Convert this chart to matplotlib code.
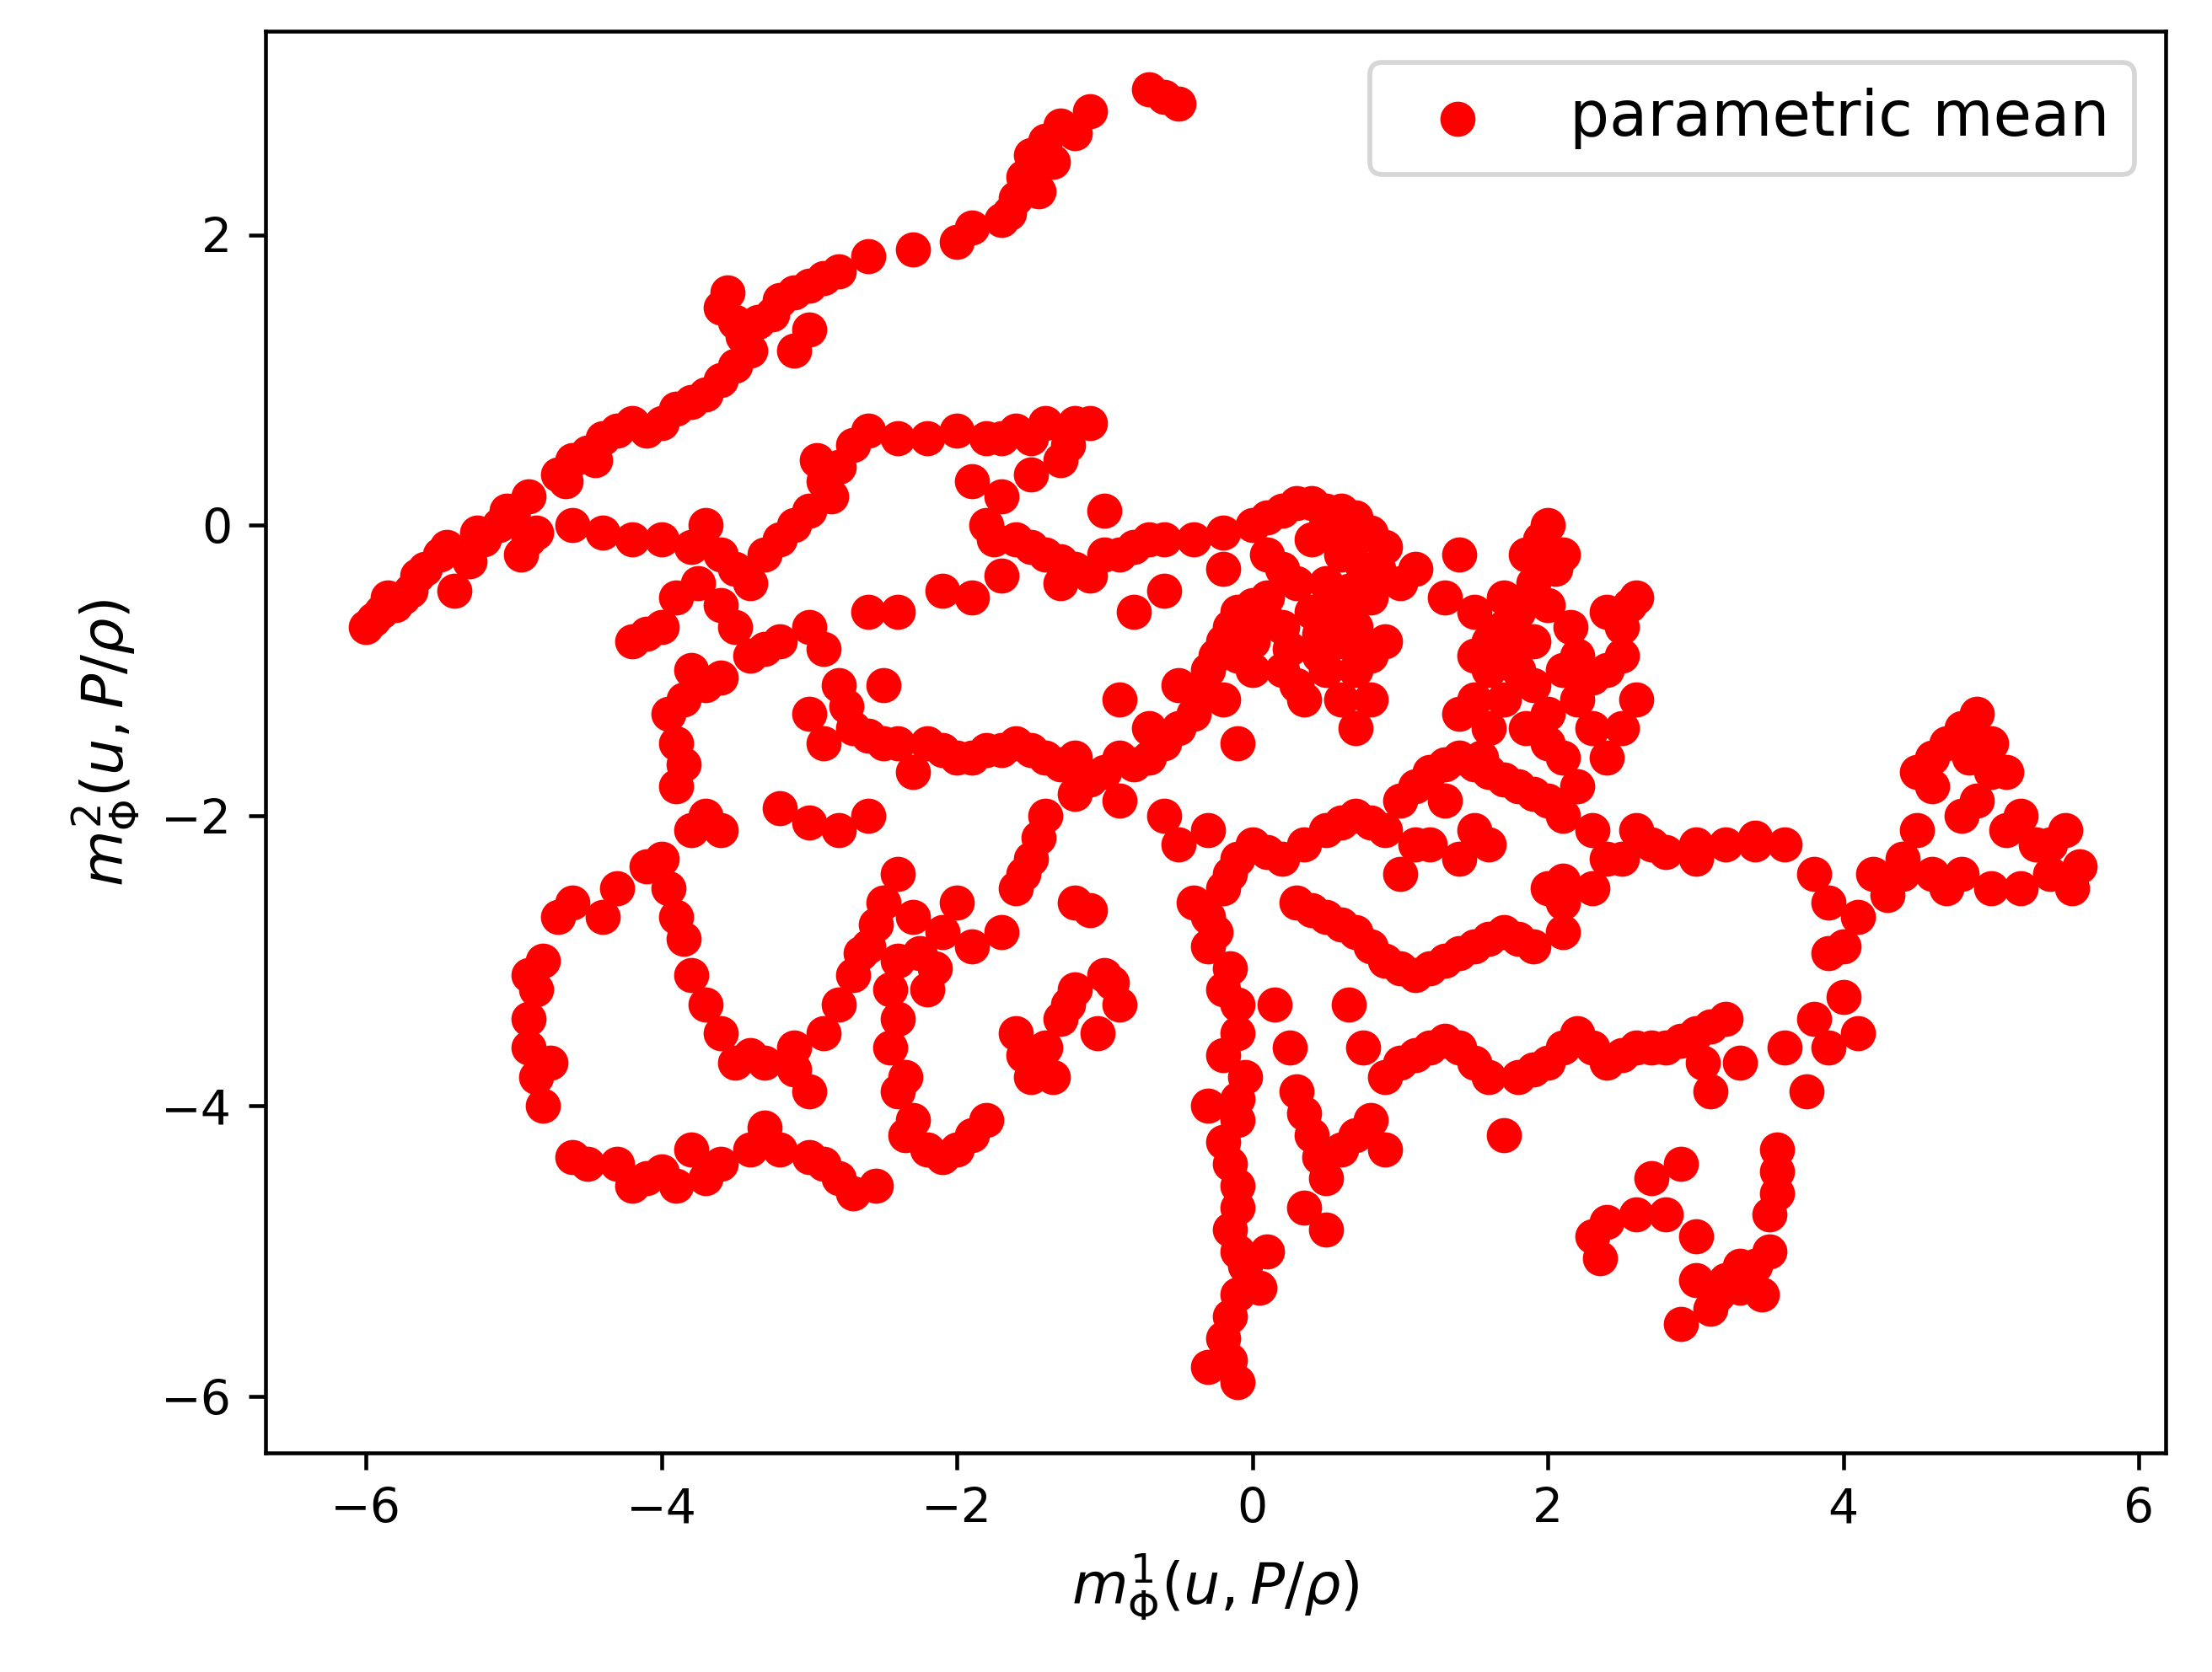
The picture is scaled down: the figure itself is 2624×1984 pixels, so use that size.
import matplotlib
matplotlib.use('Agg')
import matplotlib.pyplot as plt
import numpy as np

# points (x, y)
pts_top = [(-6.0,-0.7),(-5.9,-0.6),(-5.8,-0.55),(-5.7,-0.45),(-5.6,-0.3),(-5.5,-0.2),(-5.4,-0.45),(-5.3,-0.25),
           (-5.2,-0.1),(-5.1,0.0),(-5.0,0.1),(-4.9,0.2),(-4.85,-0.05),(-4.7,0.35),(-4.6,0.45),(-4.5,0.5),(-4.4,0.6),
           (-4.3,0.65),(-4.2,0.7),(-4.1,0.65),(-3.9,0.8),(-3.8,0.85),(-3.7,0.9),(-3.6,1.0),(-3.5,1.1),(-3.4,1.2),
           (-3.35,1.4),(-3.6,1.5),(-3.5,1.4),(-3.2,1.55),(-3.1,1.6),(-3.0,1.65),(-2.9,1.7),(-2.8,1.75),(-2.6,1.85),
           (-2.3,1.9),(-2.0,1.95),(-1.9,2.05),(-1.7,2.1),(-1.6,2.25),(-1.55,2.4),(-1.5,2.55),(-1.4,2.65),(-1.3,2.75),
           (-1.1,2.85),(-0.7,3.0),(-0.6,2.95),(-0.5,2.9),(-3.0,1.35),(-3.1,1.2),(-5.95,-0.65),(-5.75,-0.5),
           (-5.85,-0.5),(-5.65,-0.35),(-5.45,-0.15),(-5.25,-0.05),(-5.05,0.1),(-4.95,-0.2),(-4.65,0.3),(-4.45,0.45),
           (-4.0,0.7),(-3.55,1.6),(-3.45,1.3),(-3.25,1.45),(-1.65,2.15),(-1.45,2.3),(-1.2,2.7),(-1.35,2.5)]
pts_mid = [(-4.9,-0.1),(-4.6,0.0),(-4.4,-0.05),(-4.2,-0.1),(-4.0,-0.1),(-3.8,-0.15),(-3.7,0.0),(-3.6,-0.2),
           (-3.5,-0.3),(-3.4,-0.4),(-3.3,-0.2),(-3.2,-0.1),(-3.1,0.0),(-3.0,0.1),(-2.9,0.3),(-2.8,0.4),(-2.7,0.55),
           (-2.6,0.65),(-2.4,0.6),(-2.2,0.6),(-2.0,0.65),(-1.8,0.6),(-1.6,0.65),(-1.4,0.7),(-1.2,0.7),(-1.1,0.7),
           (-1.9,0.3),(-1.8,0.0),(-1.6,-0.1),(-1.4,-0.2),(-1.2,-0.3),(-1.0,-0.2),(-0.8,-0.15),(-0.6,-0.1),(-0.4,-0.1),
           (-0.2,-0.05),(0.0,0.0),(0.2,0.1),(0.4,0.15),(0.6,0.1),(0.8,-0.05),(0.9,-0.15),(0.75,-0.3),(1.1,-0.3),
           (-1.7,-0.35),(-1.3,-0.4),(-1.1,-0.35),(-1.5,0.35),(-1.3,0.45),(-1.0,0.1),
           (0.4,-0.1),(0.5,0.0),(0.7,-0.1),(0.8,-0.5),(0.6,-0.6),(0.3,-0.4),(-0.2,-0.3),(0.0,-0.8),(0.3,-1.1),
           (0.6,-0.2),(0.9,-0.8),(1.0,-0.4),(-0.8,-0.6),(-0.6,-0.45),(-0.5,-1.1),(-0.2,-1.2),(-0.3,-2.1),
           (-2.85,0.2),(-2.95,0.45),(-1.7,0.6),(-1.5,0.6),(-1.25,0.55),(-1.7,0.2),(-1.75,-0.1),(-1.5,-0.15),
           (-1.3,-0.25),(-0.9,-0.2),(-0.7,-0.1),(0.1,0.05),(0.3,0.15),(0.5,0.1),(0.7,0.05),(0.1,-0.2),(0.2,-0.3),
           (0.1,-0.65),(0.25,-0.85),(0.45,-0.75),(0.55,-0.5),(0.7,-0.7),(0.8,-0.9),(0.7,-1.0),(0.45,-0.9),
           (0.2,-1.0),(0.0,-1.0),(-0.1,-0.9),(0.65,-0.45),(0.85,-0.3)]
pts_left = [(-4.2,-0.8),(-4.0,-0.7),(-3.9,-0.5),(-3.75,-0.4),(-3.6,-0.55),(-3.5,-0.7),(-3.85,-1.2),(-3.9,-1.5),
            (-3.9,-1.8),(-3.95,-1.3),(-3.7,-1.1),(-3.6,-1.05),(-3.4,-0.9),(-3.2,-0.8),(-3.0,-0.7),(-2.9,-0.85),
            (-2.8,-1.1),(-3.0,-1.3),(-2.9,-1.5),(-2.7,-1.4),(-2.5,-1.5),(-2.5,-1.1),(-2.6,-0.6),(-2.4,-0.6),
            (-2.2,-1.5),(-2.3,-1.7),(-2.0,-1.6),(-1.8,-1.55),(-1.6,-1.5),(-1.4,-1.6),(-1.2,-1.6),(-1.0,-1.7),
            (-0.8,-1.65),(-0.6,-1.5),(-0.4,-1.3),(-0.3,-1.0),(-0.2,-0.8),(-0.1,-0.6),(0.1,-0.5),(0.2,-0.7),(0.4,-0.6),
            (0.5,-0.4),(-0.1,-1.5),(0.35,-1.2),(0.5,-1.0),(0.6,-1.2),(0.7,-1.4),(0.8,-1.2),(0.6,-0.8),(-2.1,-0.45),
            (-1.9,-0.5),(-0.9,-1.2),(-0.7,-1.4),(-1.2,-1.85),(-0.9,-1.9),
            (-4.1,-0.75),(-3.8,-1.0),(-3.85,-1.65),(-3.3,-0.85),(-2.75,-1.25),(-2.6,-1.45),(-2.4,-1.5),(-2.1,-1.55),
            (-1.9,-1.6),(-1.7,-1.55),(-1.5,-1.55),(-1.3,-1.65),(-1.1,-1.75),(-0.9,-1.6),(-0.7,-1.6),(-0.5,-1.4),
            (-0.35,-1.15),(-0.25,-0.9),(-0.15,-0.7),(0.0,-0.55)]
pts_loop = [(-4.9,-3.4),(-4.85,-3.2),(-4.8,-3.0),(-4.6,-2.6),(-4.4,-2.7),(-4.3,-2.5),(-4.1,-2.35),(-4.0,-2.3),
            (-3.8,-2.1),(-3.7,-2.0),(-3.6,-2.1),(-3.9,-2.7),(-3.95,-2.5),(-3.8,-3.1),(-3.7,-3.3),(-3.6,-3.5),
            (-3.5,-3.7),(-3.3,-3.7),(-3.1,-3.6),(-2.9,-3.5),(-2.8,-3.3),(-2.7,-3.1),(-2.6,-2.9),(-2.5,-2.6),
            (-2.4,-2.4),(-2.6,-2.0),(-2.8,-2.1),(-3.0,-2.05),(-3.2,-1.95),(-4.85,-3.8),(-4.8,-4.0),(-4.75,-3.7),
            (-4.9,-3.6),(-4.5,-4.4),(-4.3,-4.4),(-4.2,-4.55),(-4.0,-4.45),(-3.9,-4.55),(-3.8,-4.3),(-3.7,-4.5),
            (-3.4,-4.3),(-3.3,-4.15),(-3.2,-4.3),(-3.0,-4.35),(-2.9,-4.4),(-2.8,-4.5),(-2.7,-4.6),(-2.55,-4.55),
            (-3.0,-3.9),(-3.1,-3.75),(-2.4,-3.0),(-2.4,-3.4),(-2.35,-3.8),(-2.3,-4.1),(-2.2,-4.3),(-2.0,-4.3),
            (-1.9,-4.2),(-1.8,-4.1),(-2.2,-3.2),(-2.1,-2.8),(-2.0,-2.6),(-1.9,-2.9),(-1.7,-2.8),(-1.6,-3.5),
            (-1.5,-3.8),(-1.4,-3.6),(-1.3,-3.4),(-1.2,-3.2),(-1.0,-3.1),(-0.9,-3.3),(-1.05,-3.5),(-1.35,-3.8),
            (-1.6,-2.5),(-1.5,-2.3),(-1.4,-2.0),(-1.2,-2.6),(-1.1,-2.65),(-2.3,-2.7),
            (-4.7,-2.7),(-4.9,-3.1),(-3.85,-2.85),(-3.4,-3.65),(-2.65,-2.95),(-2.55,-2.75),(-2.45,-3.2),
            (-2.45,-3.6),(-2.4,-3.9),(-2.35,-4.2),(-2.1,-4.35),(-2.25,-2.95),(-2.15,-3.05),(-1.55,-3.65),
            (-1.25,-3.3),(-0.95,-3.15),(-1.45,-2.15),(-1.55,-2.4),(-4.6,-4.35),(-4.1,-4.5),(-3.6,-4.4)]
pts_right = [(-0.1,-2.3),(-0.2,-2.5),(-0.3,-2.7),(-0.4,-2.6),(-0.3,-2.9),(-0.2,-3.2),(-0.1,-3.5),(-0.05,-3.8),
             (-0.1,-4.1),(-0.15,-4.4),(-0.1,-4.7),(-0.1,-5.0),(-0.1,-5.3),(-0.2,-5.6),(-0.1,-5.9),(-0.3,-5.8),
             (0.1,-5.0),(0.05,-5.25),(-0.3,-4.0),(-0.5,-2.2),(-0.6,-2.0),(0.0,-2.2),(0.2,-2.3),(0.5,-2.1),(0.7,-2.0),
             (0.9,-2.1),(1.1,-2.2),(1.0,-2.4),(0.3,-2.6),(0.5,-2.7),(0.7,-2.8),(0.9,-3.0),(1.1,-3.1),(1.3,-3.0),
             (1.5,-2.9),(1.7,-2.8),(1.9,-2.9),(2.1,-2.8),(0.15,-3.3),(0.3,-3.9),(0.4,-4.2),(0.5,-4.5),(0.35,-4.7),
             (0.5,-4.85),(0.6,-4.3),(0.8,-4.1),(0.9,-4.3),(0.65,-3.3),(0.75,-3.6),(1.0,-3.7),(1.2,-3.6),(1.4,-3.6),
             (1.6,-3.8),(1.8,-3.8),(1.7,-4.2),(2.0,-3.7),(2.2,-3.5),(2.4,-3.7),(2.6,-3.6),(2.8,-3.6),(3.0,-3.5),
             (3.2,-3.4),(3.3,-3.7),(3.1,-3.9),(2.9,-4.4),(2.7,-4.5),(2.3,-4.9),(2.4,-4.8),(2.6,-4.75),(2.8,-4.75),
             (3.0,-4.9),(3.0,-5.2),(2.9,-5.5),(3.1,-5.4),(3.2,-5.2),(3.3,-5.1),(3.45,-5.3),(3.5,-5.0),(3.55,-4.6),
             (3.55,-4.3),(3.6,-3.6),(3.8,-3.4),(3.9,-3.6),(3.75,-3.9),(4.0,-3.25),(4.1,-3.5),(4.0,-2.9),(3.9,-2.6),
             (3.8,-2.4),(3.6,-2.2),(3.4,-2.15),(3.2,-2.2),(3.0,-2.3),(2.8,-2.25),(2.6,-2.1),(2.5,-2.3),(2.3,-2.5),
             (2.1,-2.45),(2.1,-2.0),(2.0,-1.9),(1.8,-1.8),(1.6,-1.7),(1.4,-1.6),(1.2,-1.7),(1.0,-1.9),(4.2,-2.4),
             (4.4,-2.3),(4.6,-2.4),(4.7,-2.5),(4.5,-2.1),(4.5,-1.7),(4.6,-1.6),(4.8,-1.4),(4.9,-1.3),(5.0,-1.5),
             (5.1,-1.7),(4.9,-1.9),(4.8,-2.0),(5.2,-2.0),(5.3,-2.2),(5.4,-2.4),(5.5,-2.1),(5.6,-2.35),(5.55,-2.5),
             (5.2,-2.5),(5.0,-2.5),(4.3,-2.55),(4.1,-2.7),(3.9,-2.95),
             (1.3,-0.5),(1.4,-0.2),(1.5,-0.6),(1.6,-0.8),(1.7,-0.7),(1.8,-0.6),(1.9,-0.4),(1.95,-0.1),(2.0,0.0),
             (2.05,-0.3),(1.9,-0.8),(1.8,-1.0),(1.7,-1.2),(1.5,-1.2),(1.4,-1.3),(1.5,-0.9),(2.1,-1.0),(2.2,-1.2),
             (2.4,-1.0),(2.5,-0.7),(2.6,-0.5),(2.4,-0.6),(2.2,-0.9),(2.0,-1.3),(2.1,-1.6),(2.2,-1.8),(2.4,-1.6),
             (2.3,-2.1),(2.5,-1.4),(2.6,-1.2),(1.2,-2.2),(1.3,-1.9),(1.5,-2.1),(1.6,-2.2),(1.4,-2.3),(2.0,-2.5),
             (2.1,-2.6),(2.4,-2.3),
             (-0.15,-2.4),(-0.25,-2.8),(-0.15,-3.05),(-0.1,-3.3),(-0.2,-3.65),(-0.1,-3.95),(-0.2,-4.25),(-0.1,-4.55),
             (-0.15,-4.85),(-0.05,-5.1),(-0.15,-5.45),(-0.15,-5.75),(0.1,-2.25),(0.35,-2.2),(0.6,-2.05),(0.8,-2.05),
             (0.4,-2.65),(0.6,-2.75),(0.8,-2.9),(1.0,-3.05),(1.2,-3.05),(1.4,-2.95),(1.6,-2.85),(1.8,-2.85),
             (0.25,-3.6),(0.35,-4.05),(0.45,-4.35),(0.7,-4.2),(0.9,-3.8),(1.1,-3.65),(1.3,-3.55),(1.5,-3.7),
             (1.9,-3.75),(2.1,-3.6),(2.3,-3.6),(2.5,-3.65),(2.7,-3.6),(2.9,-3.55),(3.1,-3.45),(3.05,-3.7),
             (3.4,-2.2),(3.0,-2.2),(2.7,-2.2),(1.9,-1.85),(1.7,-1.75),(1.5,-1.65),(1.3,-1.65),(1.1,-1.8),
             (1.6,-1.0),(1.75,-0.9),(1.9,-1.1),(1.6,-1.4),(1.55,-1.6),(1.85,-1.4),(2.0,-1.5),(2.3,-1.4),
             (2.15,-0.7),(2.0,-0.55),(1.85,-0.2),(2.1,-0.2),(1.7,-0.5),(2.3,-1.05),(2.5,-0.9),(2.55,-0.55),
             (4.6,-1.8),(4.7,-1.5),(5.0,-1.7),(5.1,-2.1),(5.4,-2.2),(4.8,-2.4),(4.85,-1.6),(4.4,-2.4),
             (3.4,-5.1),(3.5,-4.75),(3.55,-4.45),(2.35,-5.05),(3.15,-5.3),(3.3,-5.25)]

pts = np.array(pts_top + pts_mid + pts_left + pts_loop + pts_right)

fig = plt.figure(figsize=(6.4, 4.84), dpi=410)
ax = fig.add_axes([0.12, 0.131, 0.859, 0.85])
ax.scatter(pts[:, 0], pts[:, 1], color='red', s=40, label='parametric mean')
ax.set_xlim(-6.68, 6.18)
ax.set_ylim(-6.39, 3.40)
ax.set_xticks([-6, -4, -2, 0, 2, 4, 6])
ax.set_yticks([-6, -4, -2, 0, 2])
ax.set_xlabel(r'$m^1_\Phi(u,P/\rho)$', fontsize=12)
ax.set_ylabel(r'$m^2_\Phi(u,P/\rho)$', fontsize=12)
ax.legend(loc='upper right', fontsize=13)
fig.savefig('out.png', dpi=410)
